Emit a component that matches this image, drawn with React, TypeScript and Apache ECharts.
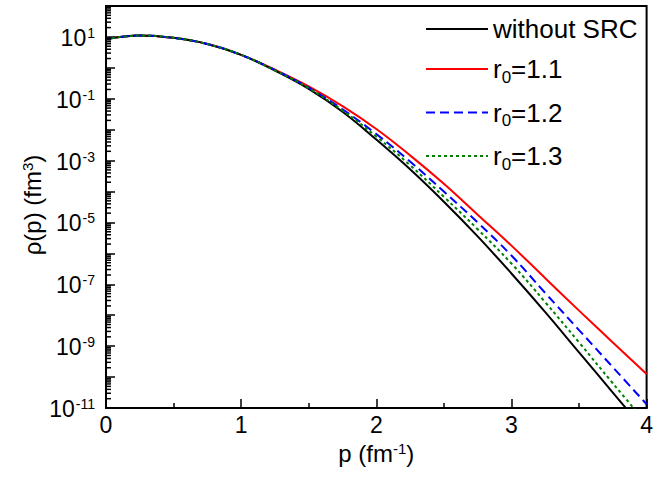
import React, { useEffect, useRef } from "react";
import * as echarts from "echarts";

const momenta = [0, 0.25, 0.5, 0.75, 1.0, 1.25, 1.5, 1.75, 2.0, 2.25, 2.5, 2.75, 3.0, 3.25, 3.5, 3.75, 4.0];

const withoutSRC = [8.5, 11.2, 9.33, 5.89, 2.63, 0.813, 0.209, 0.038, 4.79e-3, 5.25e-4, 4.68e-5, 3.55e-6, 2.24e-7, 1.26e-8, 6.31e-10, 3.16e-11, 1.58e-12];
const r011 = [8.5, 11.2, 9.33, 5.89, 2.63, 0.871, 0.251, 0.0575, 0.0105, 1.48e-3, 1.78e-4, 1.78e-5, 1.78e-6, 1.58e-7, 1.41e-8, 1.32e-9, 1.26e-10];
const r012 = [8.5, 11.2, 9.33, 5.89, 2.63, 0.851, 0.229, 0.0457, 7.24e-3, 9.33e-4, 1.0e-4, 1.0e-5, 8.51e-7, 5.25e-8, 3.31e-9, 2.09e-10, 1.32e-11];
const r013 = [8.5, 11.2, 9.33, 5.89, 2.63, 0.832, 0.219, 0.0417, 6.03e-3, 7.08e-4, 6.76e-5, 6.03e-6, 4.68e-7, 2.63e-8, 1.32e-9, 6.31e-11, 3.16e-12];

const seriesNames = ["without SRC", "r0=1.1", "r0=1.2", "r0=1.3"];
const xTicks = [0, 1, 2, 3, 4];
const yLabelExponents = [1, -1, -3, -5, -7, -9, -11];
const yMin = 1e-11;
const yMax = 1e2;

const FONT = "'Liberation Sans', Arial, Helvetica, sans-serif";
const BASE_SIZE = 23;
const SUP_SIZE = 14;

let measureCtx: CanvasRenderingContext2D | null = null;
function textWidth(text: string, size: number): number {
  if (!measureCtx) measureCtx = document.createElement("canvas").getContext("2d");
  if (!measureCtx) return text.length * size * 0.55;
  measureCtx.font = `${size}px ${FONT}`;
  return measureCtx.measureText(text).width;
}

export default function App() {
  const ref = useRef<HTMLDivElement>(null);
  useEffect(() => {
    if (!ref.current) return;
    const chart = echarts.init(ref.current, null, { renderer: "svg" });
    const pair = (ys: number[]) => momenta.map((x, i) => [x, ys[i]]);

    // minor tick positions on the log axis (2..9 per decade)
    const minorTicks: number[][] = [];
    for (let e = -11; e < 2; e++) {
      for (let k = 2; k <= 9; k++) minorTicks.push([0, k * Math.pow(10, e)]);
    }
    const yLabelData = yLabelExponents.map((e) => [0, Math.pow(10, e), e]);

    const lineSeries = (name: string, ys: number[], color: string, type: any, z: number) => ({
      name,
      type: "line",
      data: pair(ys),
      showSymbol: false,
      symbol: "none",
      smooth: 0.4,
      clip: true,
      lineStyle: { color, width: 2, type },
      itemStyle: { color },
      z,
    });

    const option: any = {
      animation: false,
      textStyle: { fontFamily: FONT },
      grid: {
        left: 106,
        right: 4,
        top: 6,
        bottom: 70,
        show: true,
        borderColor: "#000",
        borderWidth: 2,
      },
      legend: {
        data: seriesNames,
        orient: "vertical",
        left: 420,
        top: 11,
        itemWidth: 62,
        itemHeight: 14,
        itemGap: 14,
        itemStyle: { opacity: 0 },
        textStyle: {
          fontFamily: FONT,
          fontSize: 26,
          color: "#000",
          rich: {
            a: { fontSize: 26, fontFamily: FONT, color: "#000" },
            sub: { fontSize: 17, fontFamily: FONT, color: "#000", verticalAlign: "bottom", padding: [16, 0, 0, 0] },
          },
        },
        formatter: (name: string) => {
          if (name.startsWith("r0")) return `{a|r}{sub|0}{a|${name.slice(2)}}`;
          return `{a|${name}}`;
        },
      },
      xAxis: {
        type: "value",
        min: xTicks[0],
        max: xTicks[xTicks.length - 1],
        interval: 1,
        name: "{a|p (fm}{s|-1}{a|)}",
        nameLocation: "middle",
        nameGap: 33,
        nameTextStyle: {
          rich: {
            a: { fontSize: 24, fontFamily: FONT, color: "#000" },
            s: { fontSize: 15, fontFamily: FONT, color: "#000", verticalAlign: "top" },
          },
        },
        axisLine: { lineStyle: { color: "#000", width: 2 } },
        axisTick: { inside: true, length: 9, lineStyle: { color: "#000", width: 1.5 } },
        minorTick: { show: true, splitNumber: 2, length: 5, lineStyle: { color: "#000", width: 1.5 } },
        splitLine: { show: false },
        axisLabel: { fontSize: BASE_SIZE, color: "#000", margin: 5, fontFamily: FONT },
      },
      yAxis: {
        type: "log",
        logBase: 10,
        min: yMin,
        max: yMax,
        interval: 1,
        name: "{a|ρ(p) (fm}{s|3}{a|)}",
        nameLocation: "middle",
        nameGap: 62,
        nameTextStyle: {
          padding: [0, 0, 0, 4],
          rich: {
            a: { fontSize: 24, fontFamily: FONT, color: "#000" },
            s: { fontSize: 15, fontFamily: FONT, color: "#000", verticalAlign: "top" },
          },
        },
        axisLine: { lineStyle: { color: "#000", width: 2 } },
        axisTick: { inside: true, length: 9, lineStyle: { color: "#000", width: 1.5 } },
        splitLine: { show: false },
        axisLabel: { show: false },
      },
      series: [
        lineSeries(seriesNames[0], withoutSRC, "#000000", "solid", 5),
        lineSeries(seriesNames[1], r011, "#ff0000", "solid", 4),
        lineSeries(seriesNames[2], r012, "#0000ff", [9, 5], 6),
        lineSeries(seriesNames[3], r013, "#008000", [3, 3], 7),
        {
          type: "custom",
          silent: true,
          clip: false,
          data: minorTicks,
          renderItem: (params: any, api: any) => {
            const p = api.coord([0, api.value(1)]);
            return {
              type: "line",
              shape: { x1: p[0], y1: p[1], x2: p[0] + 5, y2: p[1] },
              style: { stroke: "#000", lineWidth: 1.5 },
            };
          },
          z: 10,
        },
        {
          type: "custom",
          silent: true,
          clip: false,
          data: yLabelData,
          renderItem: (params: any, api: any) => {
            const p = api.coord([0, api.value(1)]);
            const sup = String(api.value(2));
            const right = p[0] - 11;
            const x0 = right - textWidth(sup, SUP_SIZE);
            return {
              type: "group",
              children: [
                {
                  type: "text",
                  x: x0 - 1,
                  y: p[1] + 1,
                  style: {
                    text: "10",
                    align: "right",
                    verticalAlign: "middle",
                    fontSize: BASE_SIZE,
                    fontFamily: FONT,
                    fill: "#000",
                  },
                },
                {
                  type: "text",
                  x: x0,
                  y: p[1] - 11,
                  style: {
                    text: sup,
                    align: "left",
                    verticalAlign: "top",
                    fontSize: SUP_SIZE,
                    fontFamily: FONT,
                    fill: "#000",
                  },
                },
              ],
            };
          },
          z: 10,
        },
      ],
    };
    chart.setOption(option);
    return () => chart.dispose();
  }, []);
  return (
    <div
      ref={ref}
      style={{ position: "fixed", left: 0, top: 0, width: 656, height: 478, background: "#fff" }}
    />
  );
}
